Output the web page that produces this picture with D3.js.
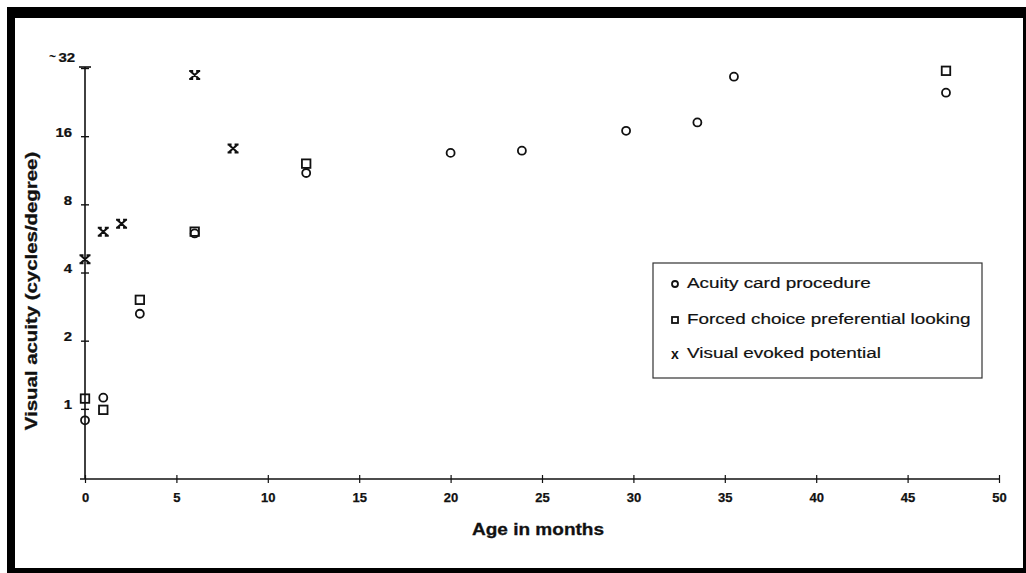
<!DOCTYPE html>
<html>
<head>
<meta charset="utf-8">
<script src="https://cdn.jsdelivr.net/npm/d3@7"></script>
<style>
  html, body { margin: 0; padding: 0; background: #fff; }
  svg { display: block; }
  text { font-family: "Liberation Sans", Arial, sans-serif; fill: #111; }
</style>
</head>
<body>
<svg id="chart" width="1026" height="573"></svg>
<script>
// ---- data ----
const acuityAge   = [0, 1, 3, 6, 12.1, 20, 23.9, 29.6, 33.5, 35.5, 47.1];
const acuityVal   = [0.89, 1.12, 2.63, 5.95, 11.0, 13.5, 13.8, 16.9, 18.4, 29.3, 24.9];
const forcedAge   = [0, 1, 3, 6, 12.1, 47.1];
const forcedVal   = [1.11, 0.99, 3.03, 6.06, 12.1, 31.1];
const vepAge      = [0, 1, 2, 6, 8.1];
const vepVal      = [4.58, 6.06, 6.57, 29.8, 14.1];
const xTicks      = [0, 5, 10, 15, 20, 25, 30, 35, 40, 45, 50];
const yTicks      = [1, 2, 4, 8, 16, 32];
const yTickLabels = ["1", "2", "4", "8", "16", "32"];
const legendLabels = ["Acuity card procedure", "Forced choice preferential looking", "Visual evoked potential"];

const svg = d3.select("#chart");
const ink = "#111";

// frame (scanned page border)
svg.append("rect").attr("x", 7).attr("y", 7).attr("width", 1019).attr("height", 566).attr("fill", "#000");
svg.append("rect").attr("x", 15).attr("y", 18).attr("width", 1008).attr("height", 550).attr("fill", "#fff");

const x = d3.scaleLinear().domain([0, 50]).range([85, 999]);
const y = d3.scaleLog().base(2).domain([0.49, 32]).range([479, 68]);

// y axis
svg.append("line").attr("x1", x(0)).attr("x2", x(0)).attr("y1", y(32) - 1).attr("y2", y(0.49))
  .attr("stroke", ink).attr("stroke-width", 1.6);
svg.append("line").attr("x1", x(0) - 6).attr("x2", x(0) + 6).attr("y1", y(32) - 1).attr("y2", y(32) - 1)
  .attr("stroke", ink).attr("stroke-width", 1.6);
const yAxis = d3.axisLeft(y).tickValues(yTicks).tickSize(0).tickFormat("");
const gy = svg.append("g").attr("transform", `translate(${x(0)},0)`).call(yAxis);
gy.select(".domain").remove();
gy.selectAll(".tick").append("line").attr("x1", -4).attr("x2", 4).attr("stroke", ink).attr("stroke-width", 1.4);
gy.selectAll(".tick").append("text")
  .attr("transform", d => d === 32 ? "translate(-10,-7) scale(1.15,1)" : "translate(-13,0) scale(1.15,1)")
  .attr("text-anchor", "end")
  .attr("font-size", 13).attr("font-weight", "bold")
  .attr("stroke", ink).attr("stroke-width", 0.25)
  .text((d, i) => yTickLabels[i]);
gy.selectAll(".tick").filter(d => d === 32).append("text")
  .attr("x", -36).attr("y", -8).attr("text-anchor", "start")
  .attr("font-size", 12).attr("font-weight", "bold").text("~");

// x axis
svg.append("line").attr("x1", x(0) - 5).attr("x2", x(50)).attr("y1", 479).attr("y2", 479)
  .attr("stroke", ink).attr("stroke-width", 1.4);
const xAxis = d3.axisBottom(x).tickValues(xTicks).tickSize(0).tickFormat("");
const gx = svg.append("g").attr("transform", "translate(0,479)").call(xAxis);
gx.select(".domain").remove();
gx.selectAll(".tick").append("line").attr("y1", -4).attr("y2", 4).attr("stroke", ink).attr("stroke-width", 1.2);
gx.selectAll(".tick").append("text")
  .attr("y", 23).attr("text-anchor", "middle")
  .attr("font-size", 13).attr("font-weight", "bold")
  .attr("stroke", ink).attr("stroke-width", 0.25)
  .text(d => d);

// axis titles
svg.append("text").attr("transform", "translate(538,535) scale(1.12,1)").attr("text-anchor", "middle")
  .attr("font-size", 17).attr("font-weight", "bold").attr("stroke", ink).attr("stroke-width", 0.3)
  .text("Age in months");
svg.append("text").attr("transform", "translate(37,291) rotate(-90) scale(1.2,1)").attr("text-anchor", "middle")
  .attr("font-size", 17).attr("font-weight", "bold").attr("stroke", ink).attr("stroke-width", 0.3)
  .text("Visual acuity (cycles/degree)");

// markers
function circleMark(g, cx, cy, r) {
  g.append("circle").attr("cx", cx).attr("cy", cy).attr("r", r)
    .attr("fill", "none").attr("stroke", ink).attr("stroke-width", 1.8);
}
function squareMark(g, cx, cy, s) {
  g.append("rect").attr("x", cx - s / 2).attr("y", cy - s / 2).attr("width", s).attr("height", s)
    .attr("fill", "none").attr("stroke", ink).attr("stroke-width", 1.8);
}
function crossMark(g, cx, cy, w, h) {
  const p = `M${cx - w/2},${cy - h/2}L${cx + w/2},${cy + h/2}M${cx + w/2},${cy - h/2}L${cx - w/2},${cy + h/2}` +
            `M${cx - w/2 - 1},${cy - h/2}L${cx - w/2 + 3},${cy - h/2}M${cx + w/2 - 3},${cy - h/2}L${cx + w/2 + 1},${cy - h/2}` +
            `M${cx - w/2 - 1},${cy + h/2}L${cx - w/2 + 3},${cy + h/2}M${cx + w/2 - 3},${cy + h/2}L${cx + w/2 + 1},${cy + h/2}`;
  g.append("path").attr("d", p).attr("fill", "none").attr("stroke", ink).attr("stroke-width", 2);
}

const marks = svg.append("g");
acuityAge.forEach((a, i) => circleMark(marks, x(a), y(acuityVal[i]), 4));
forcedAge.forEach((a, i) => squareMark(marks, x(a), y(forcedVal[i]), 8.5));
vepAge.forEach((a, i) => crossMark(marks, x(a), y(vepVal[i]), 9, 8));

// legend
const lg = svg.append("g");
lg.append("rect").attr("x", 653).attr("y", 263).attr("width", 329).attr("height", 115)
  .attr("fill", "#fff").attr("stroke", "#333").attr("stroke-width", 1.2);
const rowY = [283, 319, 353];
legendLabels.forEach((t, i) => {
  lg.append("text").attr("transform", `translate(687,${rowY[i]}) scale(1.22,1)`).attr("dy", "0.35em")
    .attr("font-size", 15.5).attr("stroke", ink).attr("stroke-width", 0.2).text(t);
});
circleMark(lg, 675, rowY[0] + 1, 3);
squareMark(lg, 675, rowY[1] + 1, 6);
lg.append("text").attr("x", 675).attr("y", rowY[2] + 1).attr("dy", "0.33em").attr("text-anchor", "middle")
  .attr("font-size", 14).attr("font-weight", "bold").text("x");
</script>
</body>
</html>
